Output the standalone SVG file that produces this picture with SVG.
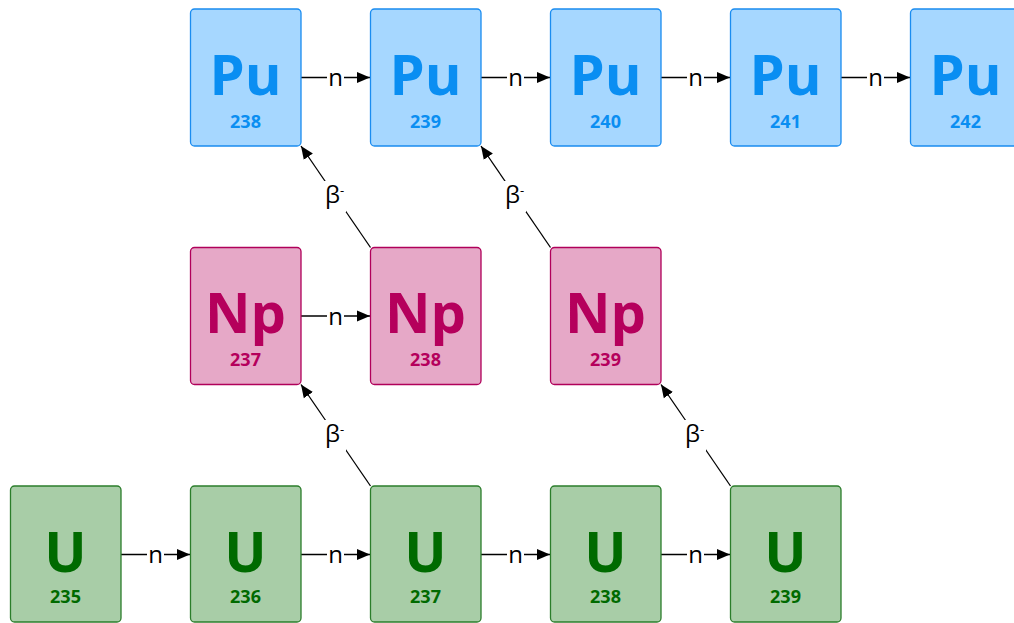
<svg xmlns="http://www.w3.org/2000/svg" width="1014" height="623" viewBox="0 0 1014 623">
  <style>
    .box { stroke-width: 1.3; }
    .pu rect { fill: #a6d7ff; stroke: #1a8cf0; }
    .pu text { fill: #0a8ef2; }
    .np rect { fill: #e6a8c7; stroke: #b0005a; }
    .np text { fill: #b5005c; }
    .u rect { fill: #a8cda7; stroke: #2b7d2b; }
    .u text { fill: #006a00; }
    .sym { font-family: "Open Sans", "DejaVu Sans", sans-serif; font-weight: bold; font-size: 56px; text-anchor: middle; }
    .num { font-family: "Open Sans", "DejaVu Sans", sans-serif; font-weight: bold; font-size: 18px; text-anchor: middle; }
    .edge { stroke: #000; stroke-width: 1.3; fill: none; marker-end: url(#arrow); }
    .lbl { font-family: "Open Sans", "DejaVu Sans", sans-serif; font-size: 24px; fill: #000; text-anchor: middle; }
    .sup { font-size: 13px; }
    .lblbg { fill: #fff; }
  </style>
  <defs>
    <marker id="arrow" markerUnits="userSpaceOnUse" markerWidth="14" markerHeight="12" refX="13" refY="6" orient="auto">
      <path d="M0,0.5 L13,6 L0,11.5 Z" fill="#000"/>
    </marker>
  </defs>
  <rect width="1014" height="623" fill="#fff"/>

  <!-- connectors -->
  <g id="connectors">
    <!-- neutron capture, Pu row -->
    <line class="edge" x1="301" y1="77.5" x2="370" y2="77.5"/>
    <line class="edge" x1="481" y1="77.5" x2="550" y2="77.5"/>
    <line class="edge" x1="661" y1="77.5" x2="730" y2="77.5"/>
    <line class="edge" x1="841" y1="77.5" x2="910" y2="77.5"/>
    <!-- neutron capture, Np row -->
    <line class="edge" x1="301" y1="316" x2="370" y2="316"/>
    <!-- neutron capture, U row -->
    <line class="edge" x1="121" y1="554.5" x2="190" y2="554.5"/>
    <line class="edge" x1="301" y1="554.5" x2="370" y2="554.5"/>
    <line class="edge" x1="481" y1="554.5" x2="550" y2="554.5"/>
    <line class="edge" x1="661" y1="554.5" x2="730" y2="554.5"/>
    <!-- beta decays -->
    <line class="edge" x1="370.5" y1="247.5" x2="301" y2="146"/>
    <line class="edge" x1="550.5" y1="247.5" x2="481" y2="146"/>
    <line class="edge" x1="370.5" y1="486" x2="301" y2="384.5"/>
    <line class="edge" x1="730.5" y1="486" x2="661" y2="384.5"/>

    <!-- n labels -->
    <g>
      <rect class="lblbg" x="327" y="66" width="17" height="22"/>
      <text class="lbl" x="335.5" y="86">n</text>
      <rect class="lblbg" x="507" y="66" width="17" height="22"/>
      <text class="lbl" x="515.5" y="86">n</text>
      <rect class="lblbg" x="687" y="66" width="17" height="22"/>
      <text class="lbl" x="695.5" y="86">n</text>
      <rect class="lblbg" x="867" y="66" width="17" height="22"/>
      <text class="lbl" x="875.5" y="86">n</text>

      <rect class="lblbg" x="327" y="304.5" width="17" height="22"/>
      <text class="lbl" x="335.5" y="324.5">n</text>

      <rect class="lblbg" x="147" y="543" width="17" height="22"/>
      <text class="lbl" x="155.5" y="563">n</text>
      <rect class="lblbg" x="327" y="543" width="17" height="22"/>
      <text class="lbl" x="335.5" y="563">n</text>
      <rect class="lblbg" x="507" y="543" width="17" height="22"/>
      <text class="lbl" x="515.5" y="563">n</text>
      <rect class="lblbg" x="687" y="543" width="17" height="22"/>
      <text class="lbl" x="695.5" y="563">n</text>
    </g>
    <!-- beta labels -->
    <g>
      <rect class="lblbg" x="322" y="181" width="24" height="31"/>
      <text class="lbl" x="334.5" y="203">β<tspan class="sup" dy="-8">-</tspan></text>
      <rect class="lblbg" x="502" y="181" width="24" height="31"/>
      <text class="lbl" x="514.5" y="203">β<tspan class="sup" dy="-8">-</tspan></text>
      <rect class="lblbg" x="322" y="420" width="24" height="31"/>
      <text class="lbl" x="334.5" y="442">β<tspan class="sup" dy="-8">-</tspan></text>
      <rect class="lblbg" x="682" y="420" width="24" height="31"/>
      <text class="lbl" x="694.5" y="442">β<tspan class="sup" dy="-8">-</tspan></text>
    </g>
  </g>

  <!-- plutonium -->
  <g id="pu238" class="pu"><rect class="box" x="190.5" y="9" width="110.5" height="137" rx="4"/><text class="sym" x="245.5" y="95">Pu</text><text class="num" x="245.5" y="127.5">238</text></g>
  <g id="pu239" class="pu"><rect class="box" x="370.5" y="9" width="110.5" height="137" rx="4"/><text class="sym" x="425.5" y="95">Pu</text><text class="num" x="425.5" y="127.5">239</text></g>
  <g id="pu240" class="pu"><rect class="box" x="550.5" y="9" width="110.5" height="137" rx="4"/><text class="sym" x="605.5" y="95">Pu</text><text class="num" x="605.5" y="127.5">240</text></g>
  <g id="pu241" class="pu"><rect class="box" x="730.5" y="9" width="110.5" height="137" rx="4"/><text class="sym" x="785.5" y="95">Pu</text><text class="num" x="785.5" y="127.5">241</text></g>
  <g id="pu242" class="pu"><rect class="box" x="910.5" y="9" width="110.5" height="137" rx="4"/><text class="sym" x="965.5" y="95">Pu</text><text class="num" x="965.5" y="127.5">242</text></g>

  <!-- neptunium -->
  <g id="np237" class="np"><rect class="box" x="190.5" y="247.5" width="110.5" height="137" rx="4"/><text class="sym" x="245.5" y="333">Np</text><text class="num" x="245.5" y="366">237</text></g>
  <g id="np238" class="np"><rect class="box" x="370.5" y="247.5" width="110.5" height="137" rx="4"/><text class="sym" x="425.5" y="333">Np</text><text class="num" x="425.5" y="366">238</text></g>
  <g id="np239" class="np"><rect class="box" x="550.5" y="247.5" width="110.5" height="137" rx="4"/><text class="sym" x="605.5" y="333">Np</text><text class="num" x="605.5" y="366">239</text></g>

  <!-- uranium -->
  <g id="u235" class="u"><rect class="box" x="10.5" y="486" width="110.5" height="136" rx="4"/><text class="sym" x="65.5" y="572">U</text><text class="num" x="65.5" y="602.5">235</text></g>
  <g id="u236" class="u"><rect class="box" x="190.5" y="486" width="110.5" height="136" rx="4"/><text class="sym" x="245.5" y="572">U</text><text class="num" x="245.5" y="602.5">236</text></g>
  <g id="u237" class="u"><rect class="box" x="370.5" y="486" width="110.5" height="136" rx="4"/><text class="sym" x="425.5" y="572">U</text><text class="num" x="425.5" y="602.5">237</text></g>
  <g id="u238" class="u"><rect class="box" x="550.5" y="486" width="110.5" height="136" rx="4"/><text class="sym" x="605.5" y="572">U</text><text class="num" x="605.5" y="602.5">238</text></g>
  <g id="u239" class="u"><rect class="box" x="730.5" y="486" width="110.5" height="136" rx="4"/><text class="sym" x="785.5" y="572">U</text><text class="num" x="785.5" y="602.5">239</text></g>
</svg>
